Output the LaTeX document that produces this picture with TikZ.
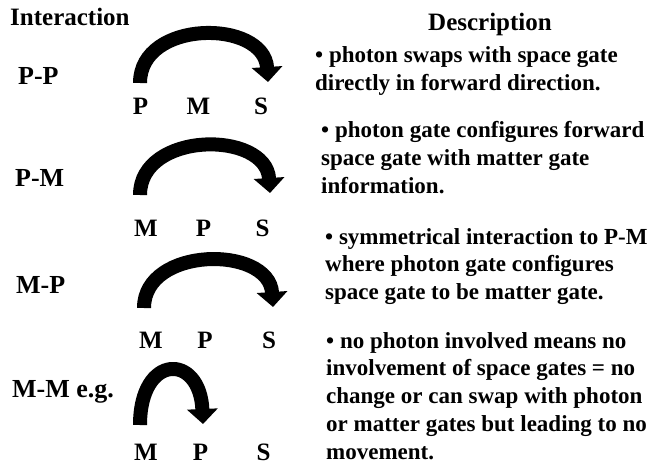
\documentclass[tikz,border=0pt]{standalone}
\usepackage{fontspec}
\setmainfont{Liberation Serif}
\usetikzlibrary{arrows.meta}
\begin{document}
\begin{tikzpicture}[x=1pt,y=-1pt,
  gate/.style={font=\fontsize{25}{25}\selectfont\bfseries,anchor=base,inner sep=0pt},
  kind/.style={font=\fontsize{26}{26}\selectfont\bfseries,anchor=base west,inner sep=0pt},
  title/.style={font=\fontsize{25}{25}\selectfont\bfseries,inner sep=0pt},
  desc/.style={font=\fontsize{23}{27.8}\selectfont\bfseries,anchor=base west,inner sep=0pt,
    text width=400pt,align=flush left},
  swaparc/.style={line width=14pt,-{Triangle[length=15pt,width=30pt]}}]

  \useasboundingbox (0,0) rectangle (652,465);

  \node[title,anchor=base west] (interaction) at (10,26) {Interaction};
  \node[title,anchor=base] (description) at (490,31) {Description};

  \node[kind] (pp) at (18,85) {P-P};
  \node[kind] (pm) at (15,186) {P-M};
  \node[kind] (mp) at (16,293) {M-P};
  \node[kind] (mm) at (12,397) {M-M e.g.};

  \node[gate] (pp-a) at (140.5,115) {P};
  \node[gate] (pp-b) at (198.5,115) {M};
  \node[gate] (pp-c) at (261,115) {S};

  \node[gate] (pm-a) at (146,236) {M};
  \node[gate] (pm-b) at (203.5,236) {P};
  \node[gate] (pm-c) at (262.5,236) {S};

  \node[gate] (mp-a) at (151,348) {M};
  \node[gate] (mp-b) at (205,348) {P};
  \node[gate] (mp-c) at (269,348) {S};

  \node[gate] (mm-a) at (146,460) {M};
  \node[gate] (mm-b) at (200.5,460) {P};
  \node[gate] (mm-c) at (263.5,460) {S};

  \coordinate (pp-from) at (140,83);
  \coordinate (pp-to) at (268,82);
  \coordinate (pm-from) at (140,195);
  \coordinate (pm-to) at (270,193);
  \coordinate (mp-from) at (144,308);
  \coordinate (mp-to) at (273,307);
  \coordinate (mm-from) at (140,425);
  \coordinate (mm-to) at (203,424);

  \draw[swaparc] (pp-from) .. controls +(0,-64) and +(-4,-63) .. (pp-to);
  \draw[swaparc] (pm-from) .. controls +(0,-64) and +(-4,-63) .. (pm-to);
  \draw[swaparc] (mp-from) .. controls +(0,-62) and +(-4,-62) .. (mp-to);
  \draw[swaparc] (mm-from) .. controls +(0,-72) and +(-3,-71) .. (mm-to);

  \node[desc] (pp-text) at (315,63) {\textbullet\ photon swaps with space gate\\
    directly in forward direction.};
  \node[desc] (pm-text) at (321,138) {\textbullet\ photon gate configures forward\\
    space gate with matter gate\\ information.};
  \node[desc] (mp-text) at (325,244) {\textbullet\ symmetrical interaction to P-M\\
    where photon gate configures\\ space gate to be matter gate.};
  \node[desc] (mm-text) at (326,348) {\textbullet\ no photon involved means no\\
    involvement of space gates = no\\ change or can swap with photon\\
    or matter gates but leading to no\\ movement.};
\end{tikzpicture}
\end{document}
